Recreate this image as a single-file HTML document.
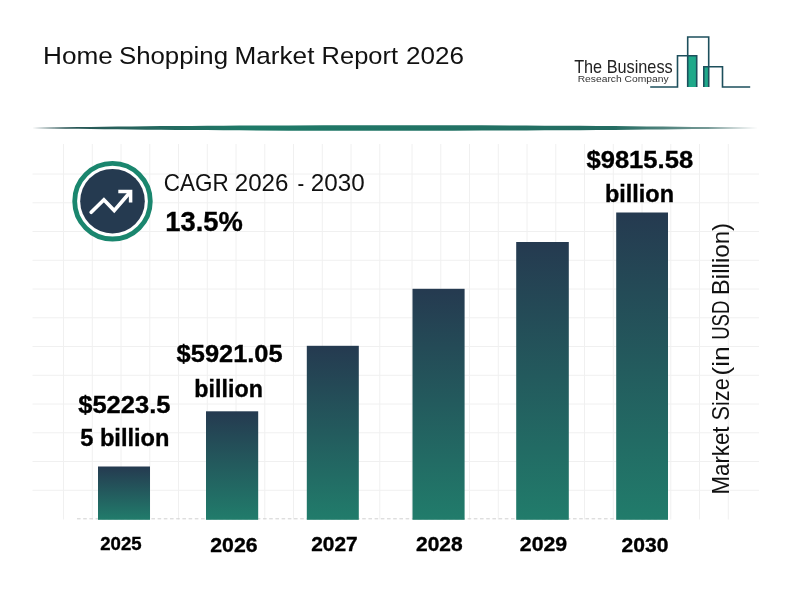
<!DOCTYPE html>
<html lang="en"><head><meta charset="utf-8"><title>Home Shopping Market Report 2026</title>
<style>
html,body{margin:0;padding:0;background:#fff;}
body{width:800px;height:600px;overflow:hidden;position:relative;font-family:"Liberation Sans",sans-serif;}
svg{position:absolute;left:0;top:0;display:block;}
text{font-family:"Liberation Sans",sans-serif;}
.b{font-weight:700;stroke:#000;stroke-width:0.35px;}
</style></head><body>
<svg width="800" height="600" viewBox="0 0 800 600">
<defs>
<linearGradient id="bar" x1="0" y1="0" x2="0" y2="1"><stop offset="0" stop-color="#253a50"/><stop offset="1" stop-color="#217c6b"/></linearGradient>
<linearGradient id="rule" x1="0" y1="0" x2="1" y2="0"><stop offset="0" stop-color="#2b4f52"/><stop offset="0.3" stop-color="#1f7a68"/><stop offset="0.8" stop-color="#246c62"/><stop offset="1" stop-color="#2b5a58" stop-opacity="0.45"/></linearGradient>
</defs>
<rect width="800" height="600" fill="#ffffff"/>
<g stroke="#f0f0f0" stroke-width="1" fill="none"><line x1="63.50" y1="144" x2="63.50" y2="519.5"/><line x1="92.25" y1="144" x2="92.25" y2="519.5"/><line x1="121.00" y1="144" x2="121.00" y2="519.5"/><line x1="149.75" y1="144" x2="149.75" y2="519.5"/><line x1="178.50" y1="144" x2="178.50" y2="519.5"/><line x1="207.25" y1="144" x2="207.25" y2="519.5"/><line x1="236.00" y1="144" x2="236.00" y2="519.5"/><line x1="264.75" y1="144" x2="264.75" y2="519.5"/><line x1="293.50" y1="144" x2="293.50" y2="519.5"/><line x1="322.25" y1="144" x2="322.25" y2="519.5"/><line x1="351.00" y1="144" x2="351.00" y2="519.5"/><line x1="379.75" y1="144" x2="379.75" y2="519.5"/><line x1="412.00" y1="144" x2="412.00" y2="519.5"/><line x1="440.75" y1="144" x2="440.75" y2="519.5"/><line x1="469.50" y1="144" x2="469.50" y2="519.5"/><line x1="498.25" y1="144" x2="498.25" y2="519.5"/><line x1="527.00" y1="144" x2="527.00" y2="519.5"/><line x1="555.75" y1="144" x2="555.75" y2="519.5"/><line x1="584.50" y1="144" x2="584.50" y2="519.5"/><line x1="613.25" y1="144" x2="613.25" y2="519.5"/><line x1="642.00" y1="144" x2="642.00" y2="519.5"/><line x1="670.75" y1="144" x2="670.75" y2="519.5"/><line x1="699.50" y1="144" x2="699.50" y2="519.5"/><line x1="728.25" y1="144" x2="728.25" y2="519.5"/><line x1="32.5" y1="174.00" x2="759" y2="174.00"/><line x1="32.5" y1="202.75" x2="759" y2="202.75"/><line x1="32.5" y1="231.50" x2="759" y2="231.50"/><line x1="32.5" y1="260.25" x2="759" y2="260.25"/><line x1="32.5" y1="289.00" x2="759" y2="289.00"/><line x1="32.5" y1="317.75" x2="759" y2="317.75"/><line x1="32.5" y1="346.50" x2="759" y2="346.50"/><line x1="32.5" y1="375.25" x2="759" y2="375.25"/><line x1="32.5" y1="404.00" x2="759" y2="404.00"/><line x1="32.5" y1="432.75" x2="759" y2="432.75"/><line x1="32.5" y1="461.50" x2="759" y2="461.50"/><line x1="32.5" y1="490.25" x2="759" y2="490.25"/></g>
<line x1="77" y1="518.8" x2="668" y2="518.8" stroke="#d0d0d0" stroke-width="1" stroke-dasharray="3.6 2.6"/>
<path d="M32 128 C200 124.4 590 124.4 758 128 C590 131.6 200 131.6 32 128 Z" fill="url(#rule)"/>
<rect x="98" y="466.5" width="52.00" height="53.30" fill="url(#bar)"/>
<rect x="206" y="411.3" width="52.20" height="108.50" fill="url(#bar)"/>
<rect x="306.8" y="345.8" width="52.00" height="174.00" fill="url(#bar)"/>
<rect x="412.5" y="288.8" width="52.10" height="231.00" fill="url(#bar)"/>
<rect x="516.2" y="242" width="52.60" height="277.80" fill="url(#bar)"/>
<rect x="616.2" y="212.5" width="51.80" height="307.30" fill="url(#bar)"/>
<text x="43.00" y="64.2" font-size="24.2" fill="#111" textLength="69.84" lengthAdjust="spacingAndGlyphs">Home</text>
<text x="118.92" y="64.2" font-size="24.2" fill="#111" textLength="109.11" lengthAdjust="spacingAndGlyphs">Shopping</text>
<text x="234.52" y="64.2" font-size="24.2" fill="#111" textLength="79.89" lengthAdjust="spacingAndGlyphs">Market</text>
<text x="321.62" y="64.2" font-size="24.2" fill="#111" textLength="76.39" lengthAdjust="spacingAndGlyphs">Report</text>
<text x="406.00" y="64.2" font-size="24.2" fill="#111" textLength="58.00" lengthAdjust="spacingAndGlyphs">2026</text>
<text x="163.85" y="191.4" font-size="23.8" fill="#111" textLength="64.78" lengthAdjust="spacingAndGlyphs">CAGR</text>
<text x="234.74" y="191.4" font-size="23.8" fill="#111" textLength="53.74" lengthAdjust="spacingAndGlyphs">2026</text>
<text x="297.49" y="191.4" font-size="23.8" fill="#111" textLength="6.73" lengthAdjust="spacingAndGlyphs">-</text>
<text x="310.72" y="191.4" font-size="23.8" fill="#111" textLength="53.90" lengthAdjust="spacingAndGlyphs">2030</text>
<text x="165.35" y="231.2" font-size="27.8" class="b" fill="#000" textLength="77.54" lengthAdjust="spacingAndGlyphs">13.5%</text>
<text x="78.26" y="412.5" font-size="24" class="b" fill="#000" textLength="92.21" lengthAdjust="spacingAndGlyphs">$5223.5</text>
<text x="80.20" y="446.4" font-size="24" class="b" fill="#000" textLength="89.26" lengthAdjust="spacingAndGlyphs">5 billion</text>
<text x="176.64" y="362.4" font-size="24" class="b" fill="#000" textLength="105.97" lengthAdjust="spacingAndGlyphs">$5921.05</text>
<text x="194.36" y="396.6" font-size="24" class="b" fill="#000" textLength="68.48" lengthAdjust="spacingAndGlyphs">billion</text>
<text x="586.46" y="167.7" font-size="24" class="b" fill="#000" textLength="106.68" lengthAdjust="spacingAndGlyphs">$9815.58</text>
<text x="605.00" y="201.5" font-size="24" class="b" fill="#000" textLength="69.01" lengthAdjust="spacingAndGlyphs">billion</text>
<text x="100.23" y="549.8" font-size="17.9" class="b" fill="#000" textLength="41.37" lengthAdjust="spacingAndGlyphs">2025</text>
<text x="210.30" y="551.8" font-size="19.9" class="b" fill="#000" textLength="47.22" lengthAdjust="spacingAndGlyphs">2026</text>
<text x="311.21" y="551.2" font-size="19.9" class="b" fill="#000" textLength="46.46" lengthAdjust="spacingAndGlyphs">2027</text>
<text x="416.00" y="551.2" font-size="19.9" class="b" fill="#000" textLength="46.60" lengthAdjust="spacingAndGlyphs">2028</text>
<text x="519.87" y="551" font-size="19.9" class="b" fill="#000" textLength="47.28" lengthAdjust="spacingAndGlyphs">2029</text>
<text x="621.50" y="552.3" font-size="19.9" class="b" fill="#000" textLength="46.90" lengthAdjust="spacingAndGlyphs">2030</text>
<text x="574.13" y="73" font-size="17.8" fill="#222" textLength="98.57" lengthAdjust="spacingAndGlyphs">The Business</text>
<text x="577.67" y="82" font-size="9.4" fill="#333" textLength="91.01" lengthAdjust="spacingAndGlyphs">Research Company</text>
<g transform="translate(729.4 492.5) rotate(-90)" font-size="23.6" fill="#111">
<text x="-2.00" y="0" textLength="68.06" lengthAdjust="spacingAndGlyphs">Market</text>
<text x="72.00" y="0" textLength="42.21" lengthAdjust="spacingAndGlyphs">Size</text>
<text x="116.80" y="0" textLength="29.55" lengthAdjust="spacingAndGlyphs">(in</text>
<text x="152.75" y="0" textLength="39.09" lengthAdjust="spacingAndGlyphs">USD</text>
<text x="197.25" y="0" textLength="72.32" lengthAdjust="spacingAndGlyphs">Billion)</text>
</g>
<circle cx="112.5" cy="201.2" r="37.8" fill="#fff" stroke="#1a866e" stroke-width="4.8"/>
<circle cx="112.5" cy="201.2" r="32.3" fill="#253a50"/>
<path d="M91.2 212.3 L103.9 199.8 L114.2 210.6 L130 192.2" fill="none" stroke="#fff" stroke-width="3.7" stroke-linecap="round" stroke-linejoin="miter"/>
<path d="M118.3 191.5 H130.6 V202.6" fill="none" stroke="#fff" stroke-width="3.5" stroke-linecap="butt" stroke-linejoin="miter"/>
<g>
<rect x="687.7" y="55.8" width="9" height="31.2" fill="#1fa98a"/>
<rect x="703.8" y="66.7" width="4.9" height="20.3" fill="#1fa98a"/>
<path d="M650.2 87 H677.5 V55.8 H696.7 V87 M687.7 87 V37 H708.7 V87 M703.8 87 V66.7 H722.5 V87 H750.2" fill="none" stroke="#1d4f5c" stroke-width="1.6" stroke-linejoin="miter"/>
</g>
</svg>
</body></html>
